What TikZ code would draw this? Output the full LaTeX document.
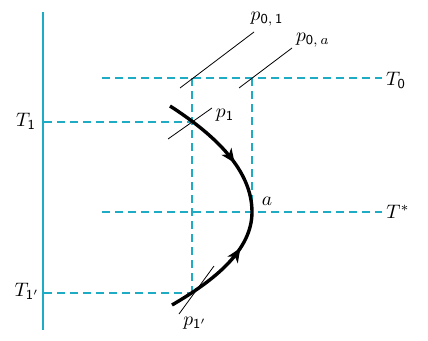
\documentclass[tikz,border=0pt]{standalone}
\usetikzlibrary{decorations.markings,arrows.meta}
\definecolor{cy}{RGB}{30,172,196}
\newcommand{\lblscale}[1]{\scalebox{1.95}{#1}}
\begin{document}
\begin{tikzpicture}[x=1pt,y=-1pt,
  guide/.style={cy,line width=1.1pt,dash pattern=on 8pt off 5pt},
  axis/.style={cy,line width=1.5pt},
  tick/.style={black,line width=0.8pt},
  lbl/.style={inner sep=0pt},
  path1/.style={line width=3.4pt,line cap=butt},
  mk/.style={postaction={decorate},decoration={markings,mark=at position #1 with {\arrow{Stealth[length=14pt,width=12pt,inset=4pt]}}}}]
\useasboundingbox (0,0) rectangle (428,340);
% coordinates
\coordinate (axT) at (43,12);
\coordinate (axB) at (43,330);
\coordinate (t0s) at (102,78);
\coordinate (t0e) at (382,78);
\coordinate (t1s) at (44,122);
\coordinate (t1e) at (192,122);
\coordinate (tss) at (102,212);
\coordinate (tse) at (382,212);
\coordinate (t1ps) at (44,293);
\coordinate (t1pe) at (192,293);
\coordinate (v1t) at (192,78);
\coordinate (v1b) at (192,293);
\coordinate (v2t) at (252,78);
\coordinate (v2b) at (252,212);
\coordinate (cs) at (170,106);
\coordinate (ca) at (252,212);
\coordinate (ce) at (172,305);
\coordinate (l1a) at (180,88);
\coordinate (l1b) at (254,32);
\coordinate (l2a) at (239,88);
\coordinate (l2b) at (292,48);
\coordinate (l3a) at (168,139);
\coordinate (l3b) at (212,108);
\coordinate (l4a) at (179,314);
\coordinate (l4b) at (214,266);
% axis
\draw[axis] (axT) -- (axB);
% guides
\draw[guide] (t0s) -- (t0e);
\draw[guide] (t1s) -- (t1e);
\draw[guide] (tss) -- (tse);
\draw[guide] (t1ps) -- (t1pe);
\draw[guide] (v1t) -- (v1b);
\draw[guide] (v2t) -- (v2b);
% ticks
\draw[tick] (l1a) -- (l1b);
\draw[tick] (l2a) -- (l2b);
\draw[tick] (l3a) -- (l3b);
\draw[tick] (l4a) -- (l4b);
% curve
\draw[path1,mk=0.62] (cs) .. controls (215,135) and (252,170) .. (ca);
\draw[path1,mk=0.7] (ce) .. controls (215,280) and (252,250) .. (ca);
% labels
\node[lbl] (T0) at (396,80) {\lblscale{$T_{\mathsf{0}}$}};
\node[lbl] (T1) at (26,121) {\lblscale{$T_{\mathsf{1}}$}};
\node[lbl] (Ts) at (398,212) {\lblscale{$T^{*}$}};
\node[lbl] (T1p) at (27,291) {\lblscale{$T_{\mathsf{1}'}$}};
\node[lbl] (p01) at (267,19) {\lblscale{$p_{\mathsf{0,\,1}}$}};
\node[lbl] (p0a) at (313,40) {\lblscale{$p_{\mathsf{0},\,a}$}};
\node[lbl] (p1) at (225,115) {\lblscale{$p_{\mathsf{1}}$}};
\node[lbl] (p1p) at (195,323) {\lblscale{$p_{\mathsf{1}'}$}};
\node[lbl] (a) at (267,201) {\lblscale{$a$}};
\end{tikzpicture}
\end{document}
